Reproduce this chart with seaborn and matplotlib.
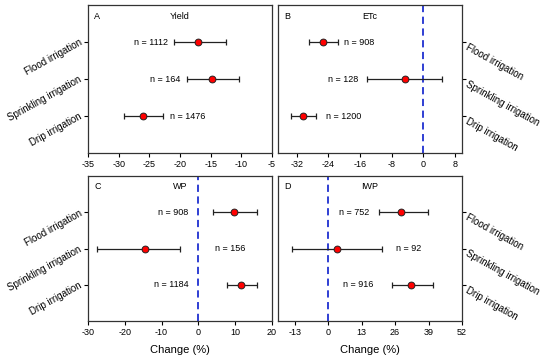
import numpy as np
import pandas as pd
import matplotlib
matplotlib.use("Agg")
import matplotlib.pyplot as plt
import seaborn as sns

# --- data
methods = ["Flood irrigation", "Sprinkling irrigation", "Drip irrigation"]
panels = ["A", "B", "C", "D"]
titles = ["Yield", "ETc", "WP", "IWP"]

mean_A = [-17.1, -14.7, -26.0]
low_A = [-21.0, -18.9, -29.1]
high_A = [-12.5, -10.4, -22.7]
n_A = [1112, 164, 1476]

mean_B = [-25.4, -4.7, -30.3]
low_B = [-28.8, -14.3, -33.4]
high_B = [-21.6, 4.8, -27.0]
n_B = [908, 128, 1200]

mean_C = [9.7, -14.5, 11.7]
low_C = [3.9, -27.6, 7.8]
high_C = [15.8, -5.0, 15.8]
n_C = [908, 156, 1184]

mean_D = [28.2, 3.6, 32.2]
low_D = [19.6, -14.2, 24.9]
high_D = [38.6, 21.0, 40.8]
n_D = [752, 92, 916]

xticks_A = [-35, -30, -25, -20, -15, -10, -5]
xticks_B = [-32, -24, -16, -8, 0, 8]
xticks_C = [-30, -20, -10, 0, 10, 20]
xticks_D = [-13, 0, 13, 26, 39, 52]

rows = []
for p, m, lo, hi, n in zip(panels,
                           [mean_A, mean_B, mean_C, mean_D],
                           [low_A, low_B, low_C, low_D],
                           [high_A, high_B, high_C, high_D],
                           [n_A, n_B, n_C, n_D]):
    for i, meth in enumerate(methods):
        rows.append(dict(panel=p, method=meth, pos=i + 1, mean=m[i], low=lo[i], high=hi[i], n=n[i]))
df = pd.DataFrame(rows)

# layout: x limits, zero line, and n-label anchors (x, ha)
layout = {
    "A": dict(xlim=(-35, -5), ticks=xticks_A, zero=False,
              labels=[(-21.9, "right"), (-20.0, "right"), (-21.6, "left")]),
    "B": dict(xlim=(-36.7, 9.8), ticks=xticks_B, zero=True,
              labels=[(-20.1, "left"), (-16.4, "right"), (-24.6, "left")]),
    "C": dict(xlim=(-30, 20), ticks=xticks_C, zero=True,
              labels=[(-2.7, "right"), (4.5, "left"), (-2.7, "right")]),
    "D": dict(xlim=(-19.5, 52), ticks=xticks_D, zero=True,
              labels=[(16.1, "right"), (26.5, "left"), (17.7, "right")]),
}

sns.set_style("ticks")
plt.rcParams["font.family"] = ["Liberation Sans", "DejaVu Sans"]
plt.rcParams["axes.unicode_minus"] = False
plt.rcParams["text.color"] = "black"
plt.rcParams["xtick.color"] = "black"
plt.rcParams["ytick.color"] = "black"
plt.rcParams["axes.labelcolor"] = "black"

fig = plt.figure(figsize=(5.5, 3.62), dpi=100)
boxes = {
    "A": [0.160, 0.577, 0.3345, 0.409],
    "B": [0.5055, 0.577, 0.3345, 0.409],
    "C": [0.160, 0.113, 0.3345, 0.401],
    "D": [0.5055, 0.113, 0.3345, 0.401],
}

for p, title in zip(panels, titles):
    ax = fig.add_axes(boxes[p])
    d = df[df.panel == p]
    cfg = layout[p]

    if cfg["zero"]:
        ax.axvline(0, color="#1f2fd0", ls=(0, (4, 2.5)), lw=1.3, zorder=1)

    ax.errorbar(d["mean"], d["pos"],
                xerr=[d["mean"] - d["low"], d["high"] - d["mean"]],
                fmt="none", ecolor="#222222", elinewidth=0.9, capsize=2.5, capthick=0.9, zorder=2)
    sns.scatterplot(data=d, x="mean", y="pos", ax=ax, color="red", edgecolor="#222222",
                    linewidth=0.7, s=24, zorder=3, legend=False)

    for (lx, ha), (_, r) in zip(cfg["labels"], d.iterrows()):
        ax.text(lx, r["pos"], f"n = {r['n']}", ha=ha, va="center", fontsize=6.5)

    ax.set_xlim(*cfg["xlim"])
    ax.set_xticks(cfg["ticks"])
    ax.set_ylim(4, 0)
    ax.set_yticks([1, 2, 3])
    ax.tick_params(axis="x", labelsize=6.5, length=3, width=0.8, pad=2)
    ax.tick_params(axis="y", length=3, width=0.8, pad=2)
    ax.set_ylabel("")
    ax.set_xlabel("Change (%)" if p in ("C", "D") else "", fontsize=8, labelpad=6)

    if p in ("B", "D"):
        ax.yaxis.tick_right()
        ax.set_yticklabels(methods, rotation=-29, ha="left", va="top", fontsize=7,
                           rotation_mode="anchor")
    else:
        ax.set_yticklabels(methods, rotation=29, ha="right", va="center", fontsize=7,
                           rotation_mode="anchor")

    for s in ax.spines.values():
        s.set_visible(True)
        s.set_color("#333333")
        s.set_linewidth(0.9)

    ax.text(0.035, 0.955, p, transform=ax.transAxes, fontsize=6.5, ha="left", va="top")
    ax.text(0.5, 0.955, title, transform=ax.transAxes, fontsize=6.5, ha="center", va="top")

fig.savefig("out.png", dpi=100)
